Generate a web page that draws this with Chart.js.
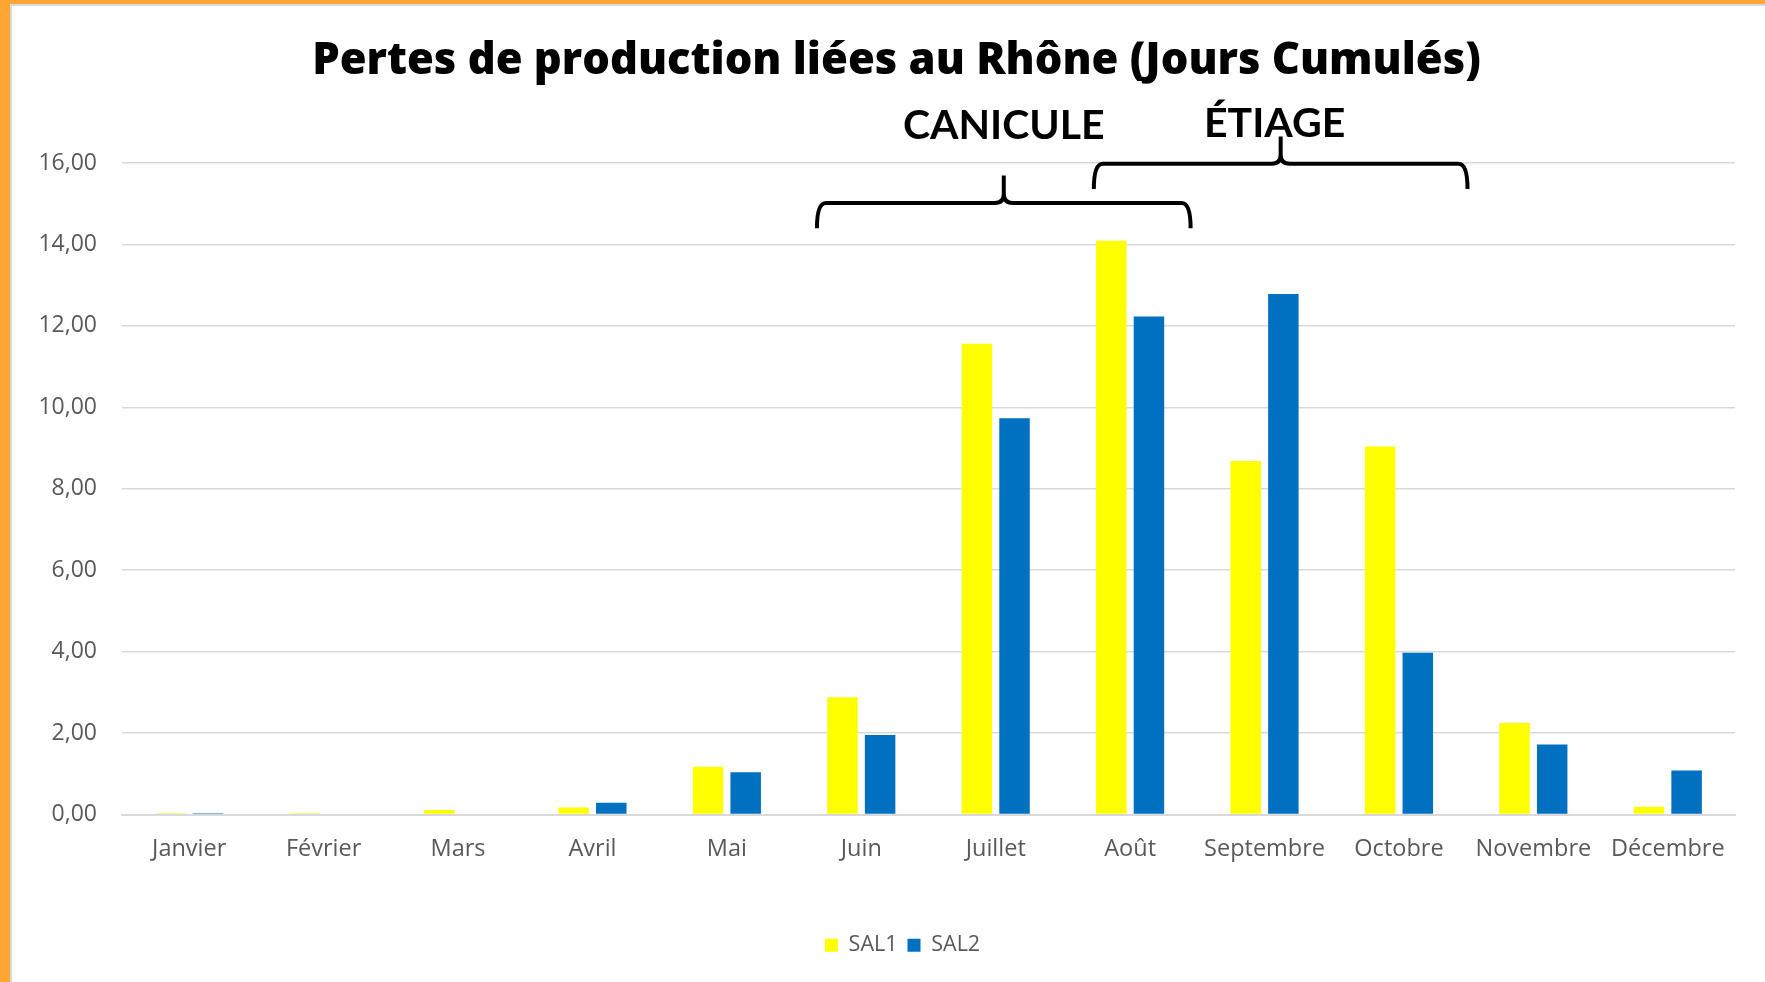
<!DOCTYPE html>
<html>
<head>
<meta charset="utf-8">
<script src="https://cdn.jsdelivr.net/npm/chart.js@4"></script>
<style>
  html, body { margin: 0; padding: 0; background: #fff; }
  #wrap { width: 1765px; height: 982px; }
</style>
</head>
<body>
<div id="wrap"><canvas id="graphique"></canvas></div>
<script>
// Données
const mois = ["Janvier", "Février", "Mars", "Avril", "Mai", "Juin", "Juillet", "Août", "Septembre", "Octobre", "Novembre", "Décembre"];
const sal1 = [0.03, 0.03, 0.11, 0.17, 1.17, 2.88, 11.56, 14.09, 8.68, 9.04, 2.25, 0.19];
const sal2 = [0.03, 0, 0, 0.29, 1.04, 1.95, 9.73, 12.23, 12.78, 3.97, 1.72, 1.08];
const ticksY = [0, 2, 4, 6, 8, 10, 12, 14, 16];

const titre = "Pertes de production liées au Rhône (Jours Cumulés)";

// Périodes annotées (index du mois + décalage en fraction de catégorie)
const periodes = [
    { texte: "CANICULE", debut: [5, -0.33], fin: [7, 0.45], niveau: 15.02, niveauTexte: 16.6, decalTexte: 0 },
    { texte: "ÉTIAGE", debut: [7, -0.27], fin: [9, 0.51], niveau: 15.98, niveauTexte: 16.65, decalTexte: -6 }
];

const police = "Lato, 'Open Sans', sans-serif";
const policeAxes = "'Open Sans', sans-serif";

// Cadre orange à gauche et en haut + titre
const cadre = {
    id: "cadre",
    afterLayout(chart) {
        // légende un peu décalée vers la droite comme sur l'original
        chart.legend.left += 20;
        chart.legend.right += 20;
    },
    beforeDraw(chart) {
        const c = chart.ctx;
        c.save();
        c.fillStyle = "#ffa534";
        c.fillRect(0, 0, 10, chart.height);
        c.fillRect(0, 0, chart.width, 4);
        c.fillStyle = "#d9d9d9";
        c.fillRect(10, 4, 2, chart.height - 4);
        c.fillRect(10, 4, chart.width - 10, 2);

        c.fillStyle = "#000";
        c.font = "800 43.5px 'Open Sans', sans-serif";
        c.textAlign = "center";
        c.textBaseline = "alphabetic";
        c.fillText(titre, chart.width / 2 + 14, 74);
        c.restore();
    }
};

// Accolades + textes CANICULE / ÉTIAGE
const accolades = {
    id: "accolades",
    afterDraw(chart) {
        const c = chart.ctx;
        const x = chart.scales.x, y = chart.scales.y;
        const cat = (chart.chartArea.right - chart.chartArea.left) / mois.length;
        const unite = y.getPixelForValue(0) - y.getPixelForValue(1);
        c.save();
        c.strokeStyle = "#000";
        c.lineWidth = 4;
        periodes.forEach(p => {
            const x0 = x.getPixelForValue(p.debut[0]) + p.debut[1] * cat;
            const x1 = x.getPixelForValue(p.fin[0]) + p.fin[1] * cat;
            const xm = (x0 + x1) / 2;
            const yh = y.getPixelForValue(p.niveau);
            const ybas = yh + 0.62 * unite;
            const yhaut = yh - 0.67 * unite;
            const r = 9;
            c.beginPath();
            c.moveTo(x0, ybas);
            c.quadraticCurveTo(x0, yh, x0 + r, yh);
            c.lineTo(xm - r, yh);
            c.quadraticCurveTo(xm, yh, xm, yh - r);
            c.lineTo(xm, yhaut);
            c.moveTo(x1, ybas);
            c.quadraticCurveTo(x1, yh, x1 - r, yh);
            c.lineTo(xm + r, yh);
            c.quadraticCurveTo(xm, yh, xm, yh - r);
            c.stroke();

            c.fillStyle = "#000";
            c.font = "bold 41px " + police;
            c.textAlign = "center";
            c.textBaseline = "alphabetic";
            c.fillText(p.texte, xm + p.decalTexte, y.getPixelForValue(p.niveauTexte));
        });
        c.restore();
    }
};

const ctx = document.getElementById("graphique").getContext("2d");
new Chart(ctx, {
    type: "bar",
    data: {
        labels: mois,
        datasets: [
            { label: "SAL1", data: sal1, backgroundColor: "#ffff00" },
            { label: "SAL2", data: sal2, backgroundColor: "#0070c0" }
        ]
    },
    options: {
        responsive: true,
        maintainAspectRatio: false,
        animation: false,
        datasets: {
            bar: { categoryPercentage: 0.56, barPercentage: 0.81 }
        },
        layout: { padding: { left: 30, right: 30, top: 163, bottom: 16 } },
        plugins: {
            title: { display: false },
            legend: {
                position: "bottom",
                labels: {
                    color: "#595959",
                    font: { family: policeAxes, size: 21.5 },
                    boxWidth: 13,
                    boxHeight: 13,
                    padding: 10
                }
            },
            tooltip: { enabled: false }
        },
        scales: {
            x: {
                grid: { display: false, drawTicks: false },
                border: { color: "#d9d9d9", width: 2 },
                ticks: {
                    color: "#595959",
                    font: { family: policeAxes, size: 23.5 },
                    padding: 21,
                    maxRotation: 0
                },
                afterFit(scale) { scale.height = 110; }
            },
            y: {
                min: 0,
                max: 16,
                afterBuildTicks(scale) { scale.ticks = ticksY.map(v => ({ value: v })); },
                grid: { color: "#d9d9d9", lineWidth: 1.5, drawTicks: false },
                border: { display: false },
                ticks: {
                    color: "#595959",
                    font: { family: policeAxes, size: 23 },
                    padding: 25,
                    callback: v => v.toFixed(2).replace(".", ",")
                },
                afterFit(scale) { scale.width = 92; }
            }
        }
    },
    plugins: [cadre, accolades]
});
</script>
</body>
</html>
